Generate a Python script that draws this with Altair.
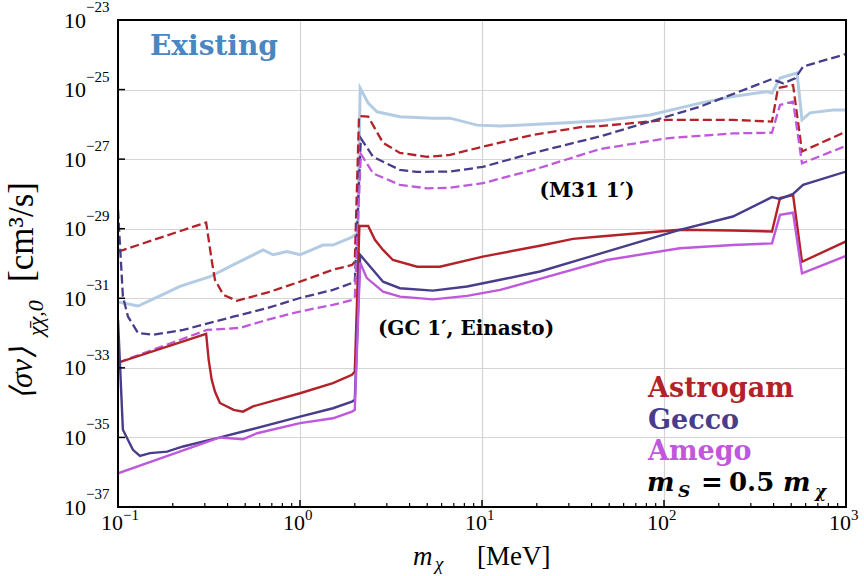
import math
import altair as alt
import pandas as pd

# ---------------- data ----------------
existing_m = [0.1, 0.129, 0.170, 0.219, 0.320, 0.429, 0.627, 0.711, 0.849, 1.0, 1.337, 1.517, 1.93, 2.08,
              2.14, 2.37, 2.65, 3.54, 5.38, 6.67, 9.40, 12.6, 29.3, 44.5, 83.8, 158, 239, 368, 392, 434,
              538, 573, 634, 849, 1000]
existing_sv = [7.9e-32, 6.0e-32, 1.17e-31, 2.19e-31, 4.17e-31, 9.1e-31, 2.45e-30, 1.78e-30, 2.19e-30, 1.78e-30,
               3.39e-30, 3.39e-30, 5.75e-30, 7.6e-30, 1.10e-25, 4.07e-26, 2.29e-26, 1.66e-26, 1.51e-26, 1.51e-26,
               9.5e-27, 8.9e-27, 1.12e-26, 1.26e-26, 1.86e-26, 4.07e-26, 6.3e-26, 8.7e-26, 7.9e-26, 2.14e-25,
               3.0e-25, 1.35e-26, 2.14e-26, 2.57e-26, 2.57e-26]

# M31 1' (dashed)
astro_m31_m = [0.1, 0.305, 0.327, 0.341, 0.379, 0.449, 0.512, 0.659, 1.0, 1.517, 1.93, 2.0, 2.11, 2.37, 2.86,
               3.54, 4.99, 6.67, 10.1, 19.1, 35.9, 44.5, 104, 239, 392, 423, 512, 573, 1000]
astro_m31_sv = [2.19e-30, 1.51e-29, 1.26e-30, 3.4e-31, 1.26e-31, 8.5e-32, 1.02e-31, 1.45e-31, 3.0e-31, 6.6e-31,
                9.1e-31, 1.12e-30, 1.74e-26, 1.66e-26, 2.95e-27, 1.51e-27, 1.17e-27, 1.32e-27, 2.29e-27, 5.0e-27,
                8.5e-27, 8.9e-27, 1.35e-26, 1.35e-26, 1.20e-26, 1.10e-25, 1.35e-25, 1.66e-27, 6.2e-27]

gecco_m31_m = [0.1, 0.1064, 0.1135, 0.129, 0.156, 0.228, 0.429, 0.659, 1.0, 1.517, 1.93, 2.0, 2.16, 2.52, 3.54,
               4.40, 6.67, 10.1, 19.1, 44.5, 83.8, 158, 392, 451, 525, 581, 1000]
gecco_m31_sv = [3.5e-29, 1.12e-31, 2.95e-32, 1.0e-32, 8.9e-33, 1.23e-32, 2.95e-32, 5.2e-32, 1.02e-31, 1.74e-31,
                2.75e-31, 2.95e-31, 3.98e-27, 1.17e-27, 4.9e-28, 4.3e-28, 4.4e-28, 6.0e-28, 1.51e-27, 4.5e-27,
                1.20e-26, 3.24e-26, 2.0e-25, 1.51e-25, 2.09e-25, 4.6e-25, 1.05e-24]

amego_m31_m = [0.1, 0.308, 0.468, 0.659, 1.0, 1.517, 1.93, 2.0, 2.16, 2.52, 3.54, 4.99, 6.67, 10.1, 19.1, 44.5,
               104, 239, 392, 434, 512, 573, 1000]
amego_m31_sv = [1.41e-33, 1.23e-32, 1.41e-32, 2.4e-32, 4.17e-32, 6.5e-32, 8.9e-32, 1.02e-31, 1.41e-27, 3.9e-28,
                1.82e-28, 1.45e-28, 1.51e-28, 2.04e-28, 4.9e-28, 1.95e-27, 3.98e-27, 5.5e-27, 5.75e-27, 3.63e-26,
                4.5e-26, 7.6e-28, 2.4e-27]

# GC 1', Einasto (solid)
astro_gc_m = [0.1, 0.305, 0.315, 0.327, 0.341, 0.363, 0.432, 0.486, 0.552, 1.0, 1.517, 1.93, 2.0, 2.12, 2.37,
              2.58, 2.86, 3.24, 4.40, 5.87, 10.1, 20.8, 31.6, 44.5, 122, 239, 392, 434, 512, 573, 1000]
astro_gc_sv = [1.41e-33, 9.5e-33, 1.70e-33, 4.6e-34, 2.09e-34, 9.8e-35, 6.2e-35, 5.5e-35, 7.8e-35, 1.86e-34,
               3.63e-34, 6.3e-34, 7.8e-34, 1.20e-29, 1.20e-29, 4.8e-30, 2.45e-30, 1.26e-30, 8.1e-31, 8.1e-31,
               1.58e-30, 3.24e-30, 5.1e-30, 6.0e-30, 9.3e-30, 8.9e-30, 8.3e-30, 7.6e-29, 9.3e-29, 1.12e-30, 4.3e-30]

gecco_gc_m = [0.1, 0.1064, 0.1208, 0.132, 0.150, 0.186, 0.228, 0.350, 0.531, 1.0, 1.517, 1.93, 2.0, 2.14, 2.33,
              2.86, 3.54, 5.38, 8.28, 12.6, 20.8, 44.5, 122, 239, 392, 434, 512, 581, 1000]
gecco_gc_sv = [2.4e-32, 1.66e-35, 4.4e-36, 2.95e-36, 3.55e-36, 3.9e-36, 5.5e-36, 9.5e-36, 1.66e-35, 3.98e-35,
               6.9e-35, 1.07e-34, 1.20e-34, 1.78e-30, 1.05e-30, 3.0e-31, 1.95e-31, 1.66e-31, 2.19e-31, 3.4e-31,
               5.9e-31, 1.91e-30, 9.3e-30, 2.24e-29, 8.1e-29, 7.1e-29, 1.0e-28, 1.82e-28, 4.4e-28]

amego_gc_m = [0.1, 0.363, 0.486, 0.581, 1.0, 1.517, 1.93, 2.0, 2.14, 2.33, 2.86, 3.54, 5.38, 8.28, 12.6, 20.8,
              48.6, 122, 239, 392, 434, 512, 573, 1000]
amego_gc_sv = [9.3e-37, 1.0e-35, 8.9e-36, 1.32e-35, 2.57e-35, 3.55e-35, 5.5e-35, 6.2e-35, 1.05e-30, 3.8e-31,
               1.55e-31, 1.12e-31, 9.3e-32, 1.17e-31, 1.74e-31, 3.63e-31, 1.26e-30, 2.75e-30, 3.39e-30, 3.8e-30,
               2.51e-29, 2.88e-29, 5.2e-31, 1.66e-30]

# tick labels: base "10" with an exponent
x_tick_values = [0.1, 1, 10, 100, 1000]
x_tick_exps = ["−1", "0", "1", "2", "3"]
y_tick_values = [1e-37, 1e-35, 1e-33, 1e-31, 1e-29, 1e-27, 1e-25, 1e-23]
y_tick_exps = ["−37", "−35", "−33", "−31", "−29", "−27", "−25", "−23"]
x_minor_ticks = [k * d for d in [0.1, 1, 10, 100] for k in range(2, 10)]

series_names = ["Astrogam", "Gecco", "Amego"]
series_colors = ["#b22228", "#483d8b", "#bf58dc"]

# ---------------- layout ----------------
W, H = 728, 487
SERIF = "Liberation Serif"
BOLD = "DejaVu Serif"

xscale = alt.Scale(type="log", domain=[0.1, 1000], nice=False)
yscale = alt.Scale(type="log", domain=[1e-37, 1e-23], nice=False)

x_axis = alt.Axis(values=x_tick_values, grid=True, gridColor="#d4d4d4", gridWidth=1.2, ticks=False,
                  domain=False, labels=False, title=None)
y_axis = alt.Axis(values=y_tick_values, grid=True, gridColor="#d4d4d4", gridWidth=1.2, ticks=False,
                  domain=False, labels=False, title=None)


def X(field):
    return alt.X(field, scale=xscale, axis=x_axis)


def Y(field):
    return alt.Y(field, scale=yscale, axis=y_axis)


exist_df = pd.DataFrame({"m": existing_m, "sv": existing_sv, "i": range(len(existing_m))})
fill = alt.Chart(exist_df).mark_area(color="#4682b4", opacity=0.2, clip=True).encode(
    x=X("m:Q"), y=Y("sv:Q"), y2=alt.value(0), order="i:Q")
exist_line = alt.Chart(exist_df).mark_line(color="#b3cce3", strokeWidth=3, clip=True).encode(
    x=X("m:Q"), y=Y("sv:Q"), order="i:Q")

layers = [fill, exist_line]

curves = [
    (astro_m31_m, astro_m31_sv, 0, True),
    (gecco_m31_m, gecco_m31_sv, 1, True),
    (amego_m31_m, amego_m31_sv, 2, True),
    (astro_gc_m, astro_gc_sv, 0, False),
    (gecco_gc_m, gecco_gc_sv, 1, False),
    (amego_gc_m, amego_gc_sv, 2, False),
]
for ms, svs, ci, dashed in curves:
    df = pd.DataFrame({"m": ms, "sv": svs, "i": range(len(ms))})
    kw = dict(color=series_colors[ci], clip=True)
    if dashed:
        kw.update(strokeWidth=2.3, strokeDash=[9, 4])
    else:
        kw.update(strokeWidth=2.4)
    layers.append(alt.Chart(df).mark_line(**kw).encode(x=X("m:Q"), y=Y("sv:Q"), order="i:Q"))

# inward ticks
ydf = pd.DataFrame({"v": y_tick_values, "e": y_tick_exps})
xdf = pd.DataFrame({"v": x_tick_values, "e": x_tick_exps})
layers.append(alt.Chart(ydf).mark_rule(color="black", strokeWidth=1.5).encode(
    y=Y("v:Q"), x=alt.value(0), x2=alt.value(7)))
layers.append(alt.Chart(xdf).mark_rule(color="black", strokeWidth=1.5).encode(
    x=X("v:Q"), y=alt.value(H), y2=alt.value(H - 7)))
layers.append(alt.Chart(pd.DataFrame({"v": x_minor_ticks})).mark_rule(color="black", strokeWidth=1.2).encode(
    x=X("v:Q"), y=alt.value(H), y2=alt.value(H - 4)))

# tick labels (10 + superscript exponent)
layers.append(alt.Chart(ydf).transform_calculate(b="'10'").mark_text(
    font=SERIF, fontSize=22, align="right", baseline="alphabetic", dy=7.5, color="black").encode(
    y=Y("v:Q"), x=alt.value(-32), text="b:N"))
layers.append(alt.Chart(ydf).mark_text(
    font=SERIF, fontSize=15, align="left", baseline="alphabetic", dy=-8, color="black").encode(
    y=Y("v:Q"), x=alt.value(-32), text="e:N"))
layers.append(alt.Chart(xdf).transform_calculate(b="'10'").mark_text(
    font=SERIF, fontSize=22, align="right", baseline="alphabetic", dx=5, color="black").encode(
    x=X("v:Q"), y=alt.value(H + 23), text="b:N"))
layers.append(alt.Chart(xdf).mark_text(
    font=SERIF, fontSize=15, align="left", baseline="alphabetic", dx=5, color="black").encode(
    x=X("v:Q"), y=alt.value(H + 13), text="e:N"))

# frame
layers.append(alt.Chart(pd.DataFrame({"a": [0]})).mark_rect(fillOpacity=0, stroke="black", strokeWidth=2).encode(
    x=alt.value(0), x2=alt.value(W), y=alt.value(0), y2=alt.value(H)))


def txt(s, x, y, size, color="black", font=SERIF, weight="normal", style="normal", align="left",
        baseline="alphabetic", angle=0):
    return alt.Chart(pd.DataFrame({"t": [s]})).mark_text(
        font=font, fontSize=size, fontWeight=weight, fontStyle=style, color=color, align=align,
        baseline=baseline, angle=angle).encode(x=alt.value(x), y=alt.value(y), text="t:N")


# annotations
layers.append(txt("Existing", 32, 35, 28, color="#4a86bf", font=BOLD, weight="bold"))
layers.append(txt("(M31 1′)", 469, 177, 20, font=BOLD, weight="bold", align="center"))
layers.append(txt("(GC 1′, Einasto)", 348, 315, 20, font=BOLD, weight="bold", align="center"))
for k, (name, col) in enumerate(zip(series_names, series_colors)):
    layers.append(txt(name, 530, 377 + 31.5 * k, 27, color=col, font=BOLD, weight="bold"))
layers.append(txt("m", 529, 471, 26, font=BOLD, weight="bold", style="italic"))
layers.append(txt("S", 560, 477, 17, font=BOLD, weight="bold", style="italic"))
layers.append(txt("=", 583, 471, 26, font=BOLD, weight="bold"))
layers.append(txt("0.5", 611, 471, 26, font=BOLD, weight="bold"))
layers.append(txt("m", 665, 471, 26, font=BOLD, weight="bold", style="italic"))
layers.append(txt("χ", 697, 477, 17, font=BOLD, weight="bold", style="italic"))

# x-axis title
layers.append(txt("m", 295, 545, 27, style="italic"))
layers.append(txt("χ", 317, 550, 19, style="italic"))
layers.append(txt("[MeV]", 359, 545, 27))

# y-axis title (rotated)
layers.append(txt("⟨σv⟩", -86, 380, 31, style="italic", angle=270))
layers.append(txt("χ̄χ,0", -75, 316, 22, style="italic", angle=270))
layers.append(txt("[cm³/s]", -85, 262, 35, angle=270))

chart = alt.layer(*layers).properties(
    width=W, height=H,
    autosize=alt.AutoSizeParams(type="none"),
    padding={"left": 118, "top": 20, "right": 18, "bottom": 69},
).configure_view(stroke=None).configure(background="white")

chart.save("out.html", embed_options={"renderer": "svg", "actions": False})
